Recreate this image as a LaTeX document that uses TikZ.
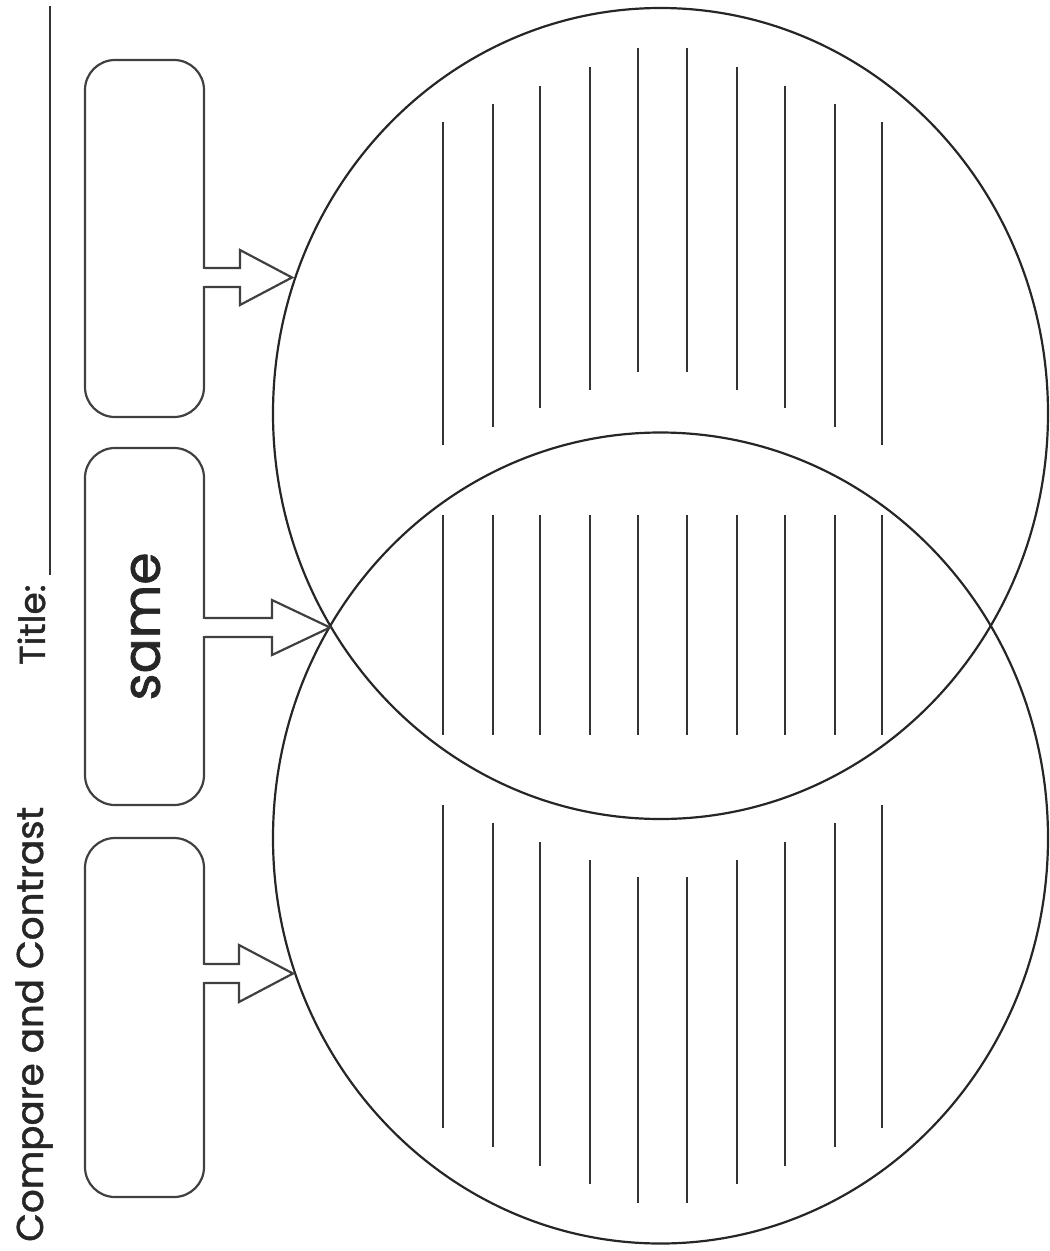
\documentclass[tikz,border=0pt]{standalone}
\usepackage{fontspec}
\setmainfont{Poppins}[FakeBold=1.2]
\usetikzlibrary{shapes.geometric,calc}
\begin{document}
\begin{tikzpicture}[x=1pt,y=-1pt,
  ring/.style={draw=black!85, line width=2.2pt, ellipse, minimum width=775pt, minimum height=811pt, inner sep=0pt},
  wline/.style={draw=black!80, line width=1.7pt},
  boxline/.style={draw=black!75, line width=2.2pt, line join=miter},
  card/.style={boxline, fill=white, rounded corners=30pt, minimum width=119pt, inner sep=0pt},
  vlabel/.style={text=black!85, inner sep=0pt, rotate=90}]
\useasboundingbox (0,0) rectangle (1050,1251);

% title
\node[vlabel, anchor=base west, font=\fontsize{36}{36}\selectfont] (title) at (45,665) {Title:};
\coordinate (tl1) at (50,6);
\coordinate (tl2) at (50,575);
\draw[wline] (tl1) -- (tl2);
\node[vlabel, anchor=base west, font=\fontsize{37.3}{37.3}\selectfont] (cc) at (43,1242) {Compare and Contrast};

% circles
\node[ring] (c1) at (660.5,413.5) {};
\node[ring] (c2) at (660.5,838) {};

% writing lines
\foreach \x/\a/\b in {443/122/445, 493/104/427, 540/86/408, 590/67/390, 638/48/372,
                      687/48/372, 737/67/390, 785/86/408, 835/104/427, 882/122/445}
  \draw[wline] (\x,\a) -- (\x,\b);
\foreach \x in {443,493,540,590,638,687,737,785,835,882}
  \draw[wline] (\x,515) -- (\x,735);
\foreach \x/\a/\b in {443/805/1128, 493/823/1147, 540/842/1166, 590/860/1184, 638/877/1203,
                      687/877/1203, 737/860/1184, 785/842/1166, 835/823/1147, 882/805/1128}
  \draw[wline] (\x,\a) -- (\x,\b);

% boxes
\node[card, minimum height=357pt] (b1) at (144.5,238.5) {};
\node[card, minimum height=357pt] (b2) at (144.5,626.5) {};
\node[card, minimum height=359pt] (b3) at (144.5,1017.5) {};
\node[vlabel, font=\fontsize{52}{52}\selectfont] (same) at (145.5,626.5) {same};

% block arrows
\foreach \b/\ty/\tx/\hx/\hw in {b1/277.5/292/240/27.5, b2/627.5/330/272/27.5, b3/973.5/293/239/28.5} {
  \coordinate (tip-\b) at (\tx,\ty);
  \fill[white] ($(\b.east|-tip-\b)+(-3,-8.4)$) rectangle ($(\b.east|-tip-\b)+(3,8.4)$);
  \draw[boxline] ($(\b.east|-tip-\b)+(0,-9.5)$) -- (\hx,\ty-9.5) -- (\hx,\ty-\hw) -- (tip-\b)
     -- (\hx,\ty+\hw) -- (\hx,\ty+9.5) -- ($(\b.east|-tip-\b)+(0,9.5)$);
}
\end{tikzpicture}
\end{document}
